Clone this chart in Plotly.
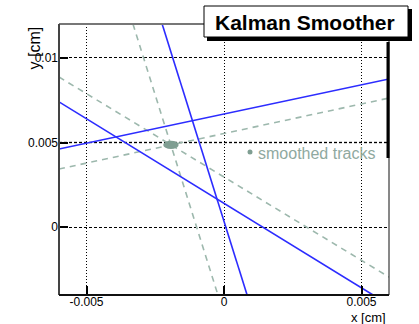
import plotly.graph_objects as go

# ---- data (cm) ----
x_ticks = [-0.005, 0.0, 0.005]
x_tick_labels = ["-0.005", "0", "0.005"]
y_ticks = [0.0, 0.005, 0.01]
y_tick_labels = ["0", "0.005", "0.01"]

# measured tracks (blue, solid): endpoints
track_x = [[-0.006, 0.00542], [-0.006, 0.006], [-0.00225, 0.00084]]
track_y = [[0.0074, -0.004], [0.00462, 0.00875], [0.012, -0.004]]

# smoothed tracks (dashed): endpoints
smooth_x = [[-0.00331, -0.00022], [-0.006, 0.006], [-0.006, 0.006]]
smooth_y = [[0.012, -0.004], [0.00887, -0.00294], [0.00344, 0.00763]]

# fitted vertex ellipse
vertex_x = -0.00193
vertex_y = 0.00486
vertex_rx = 0.00028
vertex_ry = 0.00024

W, H = 419, 324
L, R, T, B = 59, 30, 24, 29
pw, ph = W - L - R, H - T - B

def px(x):
    return (x - L) / pw

def py(y):
    return (H - B - y) / ph

BLUE = "#2c2cff"
SAGE = "#9db8ad"
SAGE_DARK = "#7f9e92"

fig = go.Figure()

for xs, ys in zip(smooth_x, smooth_y):
    fig.add_trace(go.Scatter(x=xs, y=ys, mode="lines",
                             line=dict(color=SAGE, width=1.6, dash="6px,5px"),
                             showlegend=False, hoverinfo="skip"))
for xs, ys in zip(track_x, track_y):
    fig.add_trace(go.Scatter(x=xs, y=ys, mode="lines",
                             line=dict(color=BLUE, width=1.6),
                             showlegend=False, hoverinfo="skip"))

shapes = []
# grey dotted line at 0.005
shapes.append(dict(type="line", xref="paper", yref="y", x0=0, x1=1, y0=0.005, y1=0.005,
                   line=dict(color="#a8a8a8", width=2, dash="3px,2px"), layer="below"))
# vertex ellipse
shapes.append(dict(type="circle", xref="x", yref="y",
                   x0=vertex_x - vertex_rx, x1=vertex_x + vertex_rx,
                   y0=vertex_y - vertex_ry, y1=vertex_y + vertex_ry,
                   fillcolor=SAGE_DARK, line=dict(width=0)))
# frame
shapes.append(dict(type="line", xref="paper", yref="paper", x0=0, x1=1, y0=1, y1=1,
                   line=dict(color="#777777", width=2)))
shapes.append(dict(type="line", xref="paper", yref="paper", x0=0, x1=0, y0=0, y1=1,
                   line=dict(color="#444444", width=2)))
shapes.append(dict(type="line", xref="paper", yref="paper", x0=0, x1=1, y0=0, y1=0,
                   line=dict(color="#111111", width=2)))
shapes.append(dict(type="line", xref="paper", yref="paper", x0=1, x1=1, y0=0, y1=1,
                   line=dict(color="#111111", width=1)))
# thick right edge of legend
shapes.append(dict(type="line", xref="paper", yref="paper", x0=px(388), x1=px(388),
                   y0=py(42), y1=py(158), line=dict(color="black", width=3)))
# title box shadow + box
shapes.append(dict(type="rect", xref="paper", yref="paper",
                   x0=px(207), x1=px(412), y0=py(41), y1=py(9),
                   fillcolor="black", line=dict(width=0)))
shapes.append(dict(type="rect", xref="paper", yref="paper",
                   x0=px(204), x1=px(408), y0=py(37), y1=py(6),
                   fillcolor="white", line=dict(color="black", width=1)))
# legend marker
shapes.append(dict(type="circle", xref="paper", yref="paper",
                   x0=px(247.5), x1=px(252.5), y0=py(154.5), y1=py(149.5),
                   fillcolor=SAGE_DARK, line=dict(width=0)))

annotations = [
    dict(text="<b>Kalman Smoother</b>", xref="paper", yref="paper",
         x=px(305), y=py(22), xanchor="center", yanchor="middle", showarrow=False,
         font=dict(family="Liberation Sans, Arial", size=21, color="black")),
    dict(text="smoothed tracks", xref="paper", yref="paper",
         x=px(256), y=py(153), xanchor="left", yanchor="middle", showarrow=False,
         font=dict(family="Liberation Sans, Arial", size=16, color="#8fa99f")),
    dict(text="x [cm]", xref="paper", yref="paper",
         x=px(388), y=py(317), xanchor="right", yanchor="middle", showarrow=False,
         font=dict(family="Liberation Sans, Arial", size=13, color="black")),
    dict(text="y [cm]", xref="paper", yref="paper", textangle=-90,
         x=px(34), y=py(25), xanchor="center", yanchor="top", showarrow=False,
         font=dict(family="Liberation Sans, Arial", size=16, color="black")),
]

fig.update_layout(
    width=W, height=H,
    margin=dict(l=L, r=R, t=T, b=B, pad=0),
    paper_bgcolor="white", plot_bgcolor="white",
    showlegend=False,
    shapes=shapes, annotations=annotations,
    font=dict(family="Liberation Sans, Arial", size=12, color="black"),
    xaxis=dict(range=[-0.006, 0.006], tickvals=x_ticks, ticktext=x_tick_labels,
               ticks="inside", ticklen=9, tickwidth=1.5, tickcolor="black",
               ticklabelstandoff=-2,
               showgrid=True, gridcolor="black", gridwidth=1, griddash="1px,2px",
               zeroline=False, showline=False),
    yaxis=dict(range=[-0.004, 0.012], tickvals=y_ticks, ticktext=y_tick_labels,
               ticks="inside", ticklen=9, tickwidth=1.5, tickcolor="black",
               showgrid=True, gridcolor="black", gridwidth=1, griddash="3px,2px",
               zeroline=False, showline=False),
)

fig.write_html("out.html")
